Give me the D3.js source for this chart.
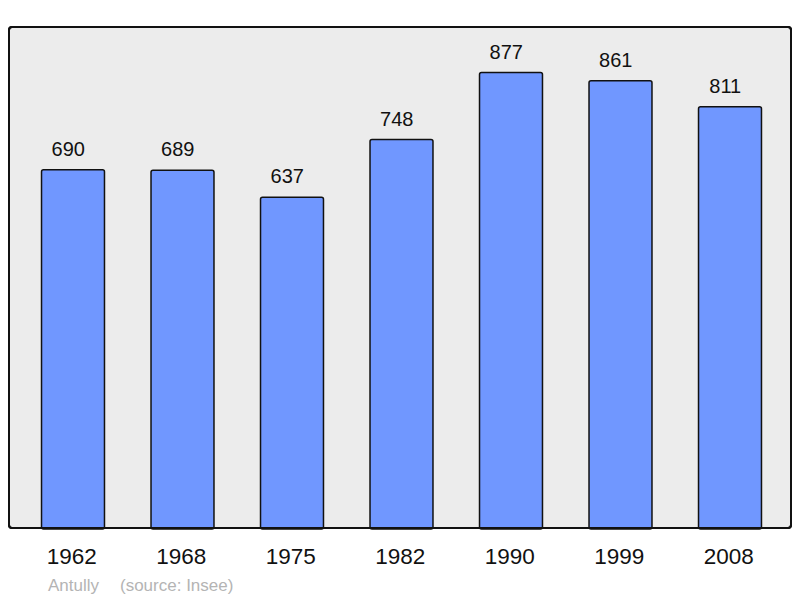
<!DOCTYPE html>
<html><head><meta charset="utf-8">
<script src="https://cdn.jsdelivr.net/npm/d3@7"></script>
<style>body{margin:0;background:#fff}svg{display:block}</style>
</head><body>
<script>
const years = ["1962","1968","1975","1982","1990","1999","2008"];
const population = [690,689,637,748,877,861,811];
const commune = "Antully";
const source = "(source: Insee)";

const W = 800, H = 598;
const svg = d3.select("body").append("svg").attr("width", W).attr("height", H);
const font = "'Liberation Sans', Arial, sans-serif";

const panel = {x0: 9, y0: 27, x1: 791, y1: 528};
svg.append("rect").attr("x", panel.x0).attr("y", panel.y0)
  .attr("width", panel.x1 - panel.x0).attr("height", panel.y1 - panel.y0)
  .attr("rx", 3).attr("fill", "#ececec").attr("stroke", "#111").attr("stroke-width", 2);

const x = d3.scaleBand().domain(years).range([18.25, 784.75]).paddingInner(0.425).paddingOuter(0.2125);
const y = d3.scaleLinear().domain([0, d3.max(population) * 1.1]).range([panel.y1, panel.y0]);

const g = svg.append("g");
g.selectAll("rect.bar").data(years).join("rect").attr("class", "bar")
  .attr("x", d => x(d)).attr("width", x.bandwidth())
  .attr("y", (d, i) => y(population[i])).attr("height", (d, i) => panel.y1 - y(population[i]) + 1)
  .attr("rx", 2).attr("fill", "#7097ff").attr("stroke", "#111").attr("stroke-width", 1.5);

g.selectAll("text.val").data(years).join("text").attr("class", "val")
  .attr("x", d => x(d) + x.bandwidth() / 2 - 4.7).attr("y", (d, i) => y(population[i]) - 14)
  .attr("text-anchor", "middle").attr("font-family", font).attr("font-size", 20).attr("fill", "#111")
  .text((d, i) => population[i]);

// redraw panel frame over bar bottoms
svg.append("rect").attr("x", panel.x0).attr("y", panel.y0)
  .attr("width", panel.x1 - panel.x0).attr("height", panel.y1 - panel.y0)
  .attr("rx", 3).attr("fill", "none").attr("stroke", "#111").attr("stroke-width", 2);

const axis = d3.axisBottom(x).tickSize(0).tickPadding(0);
const ax = svg.append("g").attr("transform", `translate(-1.3,${panel.y1})`).call(axis);
ax.select(".domain").remove();
ax.selectAll("text").attr("font-family", font).attr("font-size", 22.5).attr("fill", "#111")
  .attr("dy", null).attr("y", 36);

svg.append("text").attr("x", 48).attr("y", 591).attr("font-family", font).attr("font-size", 17)
  .attr("fill", "#b4b4b4").text(commune);
svg.append("text").attr("x", 120).attr("y", 591).attr("font-family", font).attr("font-size", 17)
  .attr("fill", "#b4b4b4").text(source);
</script>
</body></html>
